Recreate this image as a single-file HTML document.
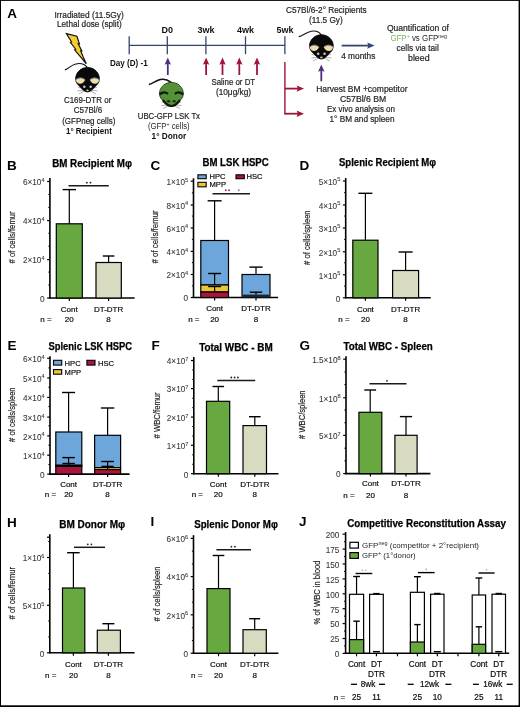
<!DOCTYPE html>
<html><head><meta charset="utf-8"><style>
html,body{margin:0;padding:0;background:#fff;overflow:hidden;}
svg{display:block;font-family:"Liberation Sans", sans-serif;will-change:transform;}
</style></head><body>
<svg width="520" height="707" viewBox="0 0 520 707">
<rect width="520" height="707" fill="#fff"/>
<rect x="0" y="0" width="520" height="0.9" fill="#000"/><rect x="0" y="0" width="1" height="707" fill="#000"/><rect x="518.6" y="0" width="1.4" height="707" fill="#000"/><rect x="0" y="705.3" width="520" height="1.7" fill="#000"/>
<text x="7.00" y="170.00" font-size="13.5" font-weight="bold" fill="#000">B</text>
<text x="92.10" y="166.82" font-size="10.2" text-anchor="middle" font-weight="bold" fill="#000" stroke="#000" stroke-width="0.25" textLength="79.80" lengthAdjust="spacingAndGlyphs">BM Recipient Mφ</text>
<text transform="translate(15.26,237.40) rotate(-90)" x="0" y="0" font-size="9.6" text-anchor="middle" textLength="52.00" lengthAdjust="spacingAndGlyphs" fill="#231f20" stroke="#231f20" stroke-width="0.2"># of cells/femur</text>
<line x1="49.90" y1="178.10" x2="49.90" y2="298.50" stroke="#000" stroke-width="1.6" />
<line x1="49.10" y1="298.00" x2="134.60" y2="298.00" stroke="#000" stroke-width="1.6" />
<line x1="47.10" y1="181.50" x2="49.90" y2="181.50" stroke="#000" stroke-width="1.2" />
<text x="44.50" y="185.35" font-size="8.2" text-anchor="end" fill="#383838" stroke="#383838" stroke-width="0.08">6×10<tspan font-size="5.6" dy="-3.4">4</tspan></text>
<line x1="47.10" y1="220.60" x2="49.90" y2="220.60" stroke="#000" stroke-width="1.2" />
<text x="44.50" y="224.45" font-size="8.2" text-anchor="end" fill="#383838" stroke="#383838" stroke-width="0.08">4×10<tspan font-size="5.6" dy="-3.4">4</tspan></text>
<line x1="47.10" y1="259.60" x2="49.90" y2="259.60" stroke="#000" stroke-width="1.2" />
<text x="44.50" y="263.45" font-size="8.2" text-anchor="end" fill="#383838" stroke="#383838" stroke-width="0.08">2×10<tspan font-size="5.6" dy="-3.4">4</tspan></text>
<line x1="47.10" y1="298.00" x2="49.90" y2="298.00" stroke="#000" stroke-width="1.2" />
<text x="44.50" y="301.85" font-size="8.2" text-anchor="end" fill="#383838" stroke="#383838" stroke-width="0.08">0</text>
<line x1="48.30" y1="285.06" x2="49.90" y2="285.06" stroke="#000" stroke-width="1" />
<line x1="48.30" y1="272.11" x2="49.90" y2="272.11" stroke="#000" stroke-width="1" />
<line x1="48.30" y1="246.22" x2="49.90" y2="246.22" stroke="#000" stroke-width="1" />
<line x1="48.30" y1="233.28" x2="49.90" y2="233.28" stroke="#000" stroke-width="1" />
<line x1="48.30" y1="207.39" x2="49.90" y2="207.39" stroke="#000" stroke-width="1" />
<line x1="48.30" y1="194.44" x2="49.90" y2="194.44" stroke="#000" stroke-width="1" />
<rect x="56.30" y="223.80" width="26.00" height="74.20" fill="#67a840" stroke="#000" stroke-width="1.2"/>
<rect x="96.00" y="262.50" width="25.30" height="35.50" fill="#d8dbc0" stroke="#000" stroke-width="1.2"/>
<line x1="69.30" y1="223.80" x2="69.30" y2="189.60" stroke="#000" stroke-width="1.2" />
<line x1="62.60" y1="189.60" x2="76.00" y2="189.60" stroke="#000" stroke-width="1.4" />
<line x1="108.60" y1="262.50" x2="108.60" y2="256.00" stroke="#000" stroke-width="1.2" />
<line x1="102.80" y1="256.00" x2="114.40" y2="256.00" stroke="#000" stroke-width="1.4" />
<line x1="68.50" y1="185.70" x2="108.80" y2="185.70" stroke="#1a1a1a" stroke-width="1.5" />
<circle cx="86.90" cy="182.70" r="0.9" fill="#222"/>
<circle cx="90.50" cy="182.70" r="0.9" fill="#222"/>
<line x1="69.30" y1="298.00" x2="69.30" y2="301.00" stroke="#000" stroke-width="1.2" />
<line x1="108.60" y1="298.00" x2="108.60" y2="301.00" stroke="#000" stroke-width="1.2" />
<text x="69.30" y="311.88" font-size="8" text-anchor="middle" stroke="#231f20" stroke-width="0.2">Cont</text>
<text x="108.60" y="311.88" font-size="8" text-anchor="middle" stroke="#231f20" stroke-width="0.2">DT-DTR</text>
<text x="46.00" y="322.28" font-size="8" text-anchor="middle" stroke="#231f20" stroke-width="0.2">n =</text>
<text x="69.30" y="322.28" font-size="8" text-anchor="middle" stroke="#231f20" stroke-width="0.2">20</text>
<text x="108.60" y="322.28" font-size="8" text-anchor="middle" stroke="#231f20" stroke-width="0.2">8</text>
<text x="150.50" y="170.00" font-size="13.5" font-weight="bold" fill="#000">C</text>
<text x="235.62" y="166.12" font-size="10.2" text-anchor="middle" font-weight="bold" fill="#000" stroke="#000" stroke-width="0.25" textLength="66.25" lengthAdjust="spacingAndGlyphs">BM LSK HSPC</text>
<text transform="translate(158.26,236.90) rotate(-90)" x="0" y="0" font-size="9.6" text-anchor="middle" textLength="53.00" lengthAdjust="spacingAndGlyphs" fill="#231f20" stroke="#231f20" stroke-width="0.2"># of cells/femur</text>
<line x1="193.50" y1="178.30" x2="193.50" y2="298.00" stroke="#000" stroke-width="1.6" />
<line x1="192.70" y1="297.50" x2="278.10" y2="297.50" stroke="#000" stroke-width="1.6" />
<line x1="190.70" y1="181.20" x2="193.50" y2="181.20" stroke="#000" stroke-width="1.2" />
<text x="188.10" y="185.05" font-size="8.2" text-anchor="end" fill="#383838" stroke="#383838" stroke-width="0.08">1×10<tspan font-size="5.6" dy="-3.4">5</tspan></text>
<line x1="190.70" y1="205.00" x2="193.50" y2="205.00" stroke="#000" stroke-width="1.2" />
<text x="188.10" y="208.85" font-size="8.2" text-anchor="end" fill="#383838" stroke="#383838" stroke-width="0.08">8×10<tspan font-size="5.6" dy="-3.4">4</tspan></text>
<line x1="190.70" y1="228.00" x2="193.50" y2="228.00" stroke="#000" stroke-width="1.2" />
<text x="188.10" y="231.85" font-size="8.2" text-anchor="end" fill="#383838" stroke="#383838" stroke-width="0.08">6×10<tspan font-size="5.6" dy="-3.4">4</tspan></text>
<line x1="190.70" y1="251.40" x2="193.50" y2="251.40" stroke="#000" stroke-width="1.2" />
<text x="188.10" y="255.25" font-size="8.2" text-anchor="end" fill="#383838" stroke="#383838" stroke-width="0.08">4×10<tspan font-size="5.6" dy="-3.4">4</tspan></text>
<line x1="190.70" y1="274.50" x2="193.50" y2="274.50" stroke="#000" stroke-width="1.2" />
<text x="188.10" y="278.35" font-size="8.2" text-anchor="end" fill="#383838" stroke="#383838" stroke-width="0.08">2×10<tspan font-size="5.6" dy="-3.4">4</tspan></text>
<line x1="190.70" y1="297.50" x2="193.50" y2="297.50" stroke="#000" stroke-width="1.2" />
<text x="188.10" y="301.35" font-size="8.2" text-anchor="end" fill="#383838" stroke="#383838" stroke-width="0.08">0</text>
<line x1="191.90" y1="285.87" x2="193.50" y2="285.87" stroke="#000" stroke-width="1" />
<line x1="191.90" y1="262.61" x2="193.50" y2="262.61" stroke="#000" stroke-width="1" />
<line x1="191.90" y1="239.35" x2="193.50" y2="239.35" stroke="#000" stroke-width="1" />
<line x1="191.90" y1="216.09" x2="193.50" y2="216.09" stroke="#000" stroke-width="1" />
<line x1="191.90" y1="192.83" x2="193.50" y2="192.83" stroke="#000" stroke-width="1" />
<rect x="197.90" y="174.80" width="8.30" height="3.90" fill="#6ca6da" stroke="#000" stroke-width="1.1"/>
<rect x="197.90" y="182.30" width="8.30" height="4.50" fill="#eac63a" stroke="#000" stroke-width="1.1"/>
<rect x="236.00" y="174.80" width="8.30" height="3.90" fill="#a8163e" stroke="#000" stroke-width="1.1"/>
<text x="209.50" y="179.00" font-size="7.6" stroke="#231f20" stroke-width="0.2">HPC</text>
<text x="209.50" y="186.50" font-size="7.6" stroke="#231f20" stroke-width="0.2">MPP</text>
<text x="246.50" y="179.00" font-size="7.6" stroke="#231f20" stroke-width="0.2">HSC</text>
<rect x="200.80" y="240.50" width="27.70" height="44.50" fill="#6ca6da" stroke="#000" stroke-width="1.2"/>
<rect x="200.80" y="285.00" width="27.70" height="7.00" fill="#eac63a" stroke="#000" stroke-width="1.2"/>
<rect x="200.80" y="292.00" width="27.70" height="5.50" fill="#a8163e" stroke="#000" stroke-width="1.2"/>
<line x1="214.60" y1="240.50" x2="214.60" y2="200.80" stroke="#000" stroke-width="1.2" />
<line x1="207.60" y1="200.80" x2="221.60" y2="200.80" stroke="#000" stroke-width="1.4" />
<line x1="214.60" y1="285.00" x2="214.60" y2="273.50" stroke="#000" stroke-width="1.2" />
<line x1="208.10" y1="273.50" x2="221.10" y2="273.50" stroke="#000" stroke-width="1.4" />
<line x1="214.60" y1="292.00" x2="214.60" y2="286.50" stroke="#000" stroke-width="1.2" />
<line x1="208.10" y1="286.50" x2="221.10" y2="286.50" stroke="#000" stroke-width="1.4" />
<rect x="242.00" y="274.50" width="28.00" height="23.00" fill="#6ca6da" stroke="#000" stroke-width="1.2"/>
<rect x="242.60" y="294.60" width="26.80" height="2.90" fill="#1c2333" stroke="none" stroke-width="0"/>
<line x1="256.00" y1="274.50" x2="256.00" y2="267.10" stroke="#000" stroke-width="1.2" />
<line x1="249.40" y1="267.10" x2="262.60" y2="267.10" stroke="#000" stroke-width="1.4" />
<line x1="256.00" y1="294.60" x2="256.00" y2="292.20" stroke="#000" stroke-width="1.2" />
<line x1="249.80" y1="292.20" x2="262.20" y2="292.20" stroke="#000" stroke-width="1.4" />
<line x1="212.50" y1="193.70" x2="250.00" y2="193.70" stroke="#1a1a1a" stroke-width="1.4" />
<circle cx="225.75" cy="190.30" r="1.0" fill="#8c3a68"/>
<circle cx="229.05" cy="190.30" r="1.0" fill="#8c3a68"/>
<circle cx="238.80" cy="190.30" r="1.0" fill="#7890a8"/>
<line x1="214.60" y1="297.50" x2="214.60" y2="300.50" stroke="#000" stroke-width="1.2" />
<line x1="256.00" y1="297.50" x2="256.00" y2="300.50" stroke="#000" stroke-width="1.2" />
<text x="214.60" y="311.38" font-size="8" text-anchor="middle" stroke="#231f20" stroke-width="0.2">Cont</text>
<text x="256.00" y="311.38" font-size="8" text-anchor="middle" stroke="#231f20" stroke-width="0.2">DT-DTR</text>
<text x="193.80" y="322.08" font-size="8" text-anchor="middle" stroke="#231f20" stroke-width="0.2">n =</text>
<text x="214.60" y="322.08" font-size="8" text-anchor="middle" stroke="#231f20" stroke-width="0.2">20</text>
<text x="256.00" y="322.08" font-size="8" text-anchor="middle" stroke="#231f20" stroke-width="0.2">8</text>
<text x="299.50" y="170.00" font-size="13.5" font-weight="bold" fill="#000">D</text>
<text x="387.50" y="166.12" font-size="10.2" text-anchor="middle" font-weight="bold" fill="#000" stroke="#000" stroke-width="0.25" textLength="97.00" lengthAdjust="spacingAndGlyphs">Splenic Recipient Mφ</text>
<text transform="translate(310.36,237.65) rotate(-90)" x="0" y="0" font-size="9.6" text-anchor="middle" textLength="54.50" lengthAdjust="spacingAndGlyphs" fill="#231f20" stroke="#231f20" stroke-width="0.2"># of cells/spleen</text>
<line x1="345.70" y1="178.10" x2="345.70" y2="298.30" stroke="#000" stroke-width="1.6" />
<line x1="344.90" y1="297.80" x2="430.70" y2="297.80" stroke="#000" stroke-width="1.6" />
<line x1="342.90" y1="181.00" x2="345.70" y2="181.00" stroke="#000" stroke-width="1.2" />
<text x="340.30" y="184.85" font-size="8.2" text-anchor="end" fill="#383838" stroke="#383838" stroke-width="0.08">5×10<tspan font-size="5.6" dy="-3.4">5</tspan></text>
<line x1="342.90" y1="205.00" x2="345.70" y2="205.00" stroke="#000" stroke-width="1.2" />
<text x="340.30" y="208.85" font-size="8.2" text-anchor="end" fill="#383838" stroke="#383838" stroke-width="0.08">4×10<tspan font-size="5.6" dy="-3.4">5</tspan></text>
<line x1="342.90" y1="228.00" x2="345.70" y2="228.00" stroke="#000" stroke-width="1.2" />
<text x="340.30" y="231.85" font-size="8.2" text-anchor="end" fill="#383838" stroke="#383838" stroke-width="0.08">3×10<tspan font-size="5.6" dy="-3.4">5</tspan></text>
<line x1="342.90" y1="251.80" x2="345.70" y2="251.80" stroke="#000" stroke-width="1.2" />
<text x="340.30" y="255.65" font-size="8.2" text-anchor="end" fill="#383838" stroke="#383838" stroke-width="0.08">2×10<tspan font-size="5.6" dy="-3.4">5</tspan></text>
<line x1="342.90" y1="274.80" x2="345.70" y2="274.80" stroke="#000" stroke-width="1.2" />
<text x="340.30" y="278.65" font-size="8.2" text-anchor="end" fill="#383838" stroke="#383838" stroke-width="0.08">1×10<tspan font-size="5.6" dy="-3.4">5</tspan></text>
<line x1="342.90" y1="297.80" x2="345.70" y2="297.80" stroke="#000" stroke-width="1.2" />
<text x="340.30" y="301.65" font-size="8.2" text-anchor="end" fill="#383838" stroke="#383838" stroke-width="0.08">0</text>
<line x1="344.10" y1="286.12" x2="345.70" y2="286.12" stroke="#000" stroke-width="1" />
<line x1="344.10" y1="262.76" x2="345.70" y2="262.76" stroke="#000" stroke-width="1" />
<line x1="344.10" y1="239.40" x2="345.70" y2="239.40" stroke="#000" stroke-width="1" />
<line x1="344.10" y1="216.04" x2="345.70" y2="216.04" stroke="#000" stroke-width="1" />
<line x1="344.10" y1="192.68" x2="345.70" y2="192.68" stroke="#000" stroke-width="1" />
<rect x="352.80" y="240.20" width="25.20" height="57.60" fill="#67a840" stroke="#000" stroke-width="1.2"/>
<rect x="392.60" y="270.50" width="26.00" height="27.30" fill="#d8dbc0" stroke="#000" stroke-width="1.2"/>
<line x1="365.40" y1="240.20" x2="365.40" y2="193.30" stroke="#000" stroke-width="1.2" />
<line x1="358.40" y1="193.30" x2="372.40" y2="193.30" stroke="#000" stroke-width="1.4" />
<line x1="405.60" y1="270.50" x2="405.60" y2="252.00" stroke="#000" stroke-width="1.2" />
<line x1="398.60" y1="252.00" x2="412.60" y2="252.00" stroke="#000" stroke-width="1.4" />
<line x1="365.40" y1="297.80" x2="365.40" y2="300.80" stroke="#000" stroke-width="1.2" />
<line x1="405.60" y1="297.80" x2="405.60" y2="300.80" stroke="#000" stroke-width="1.2" />
<text x="365.40" y="312.08" font-size="8" text-anchor="middle" stroke="#231f20" stroke-width="0.2">Cont</text>
<text x="405.60" y="312.08" font-size="8" text-anchor="middle" stroke="#231f20" stroke-width="0.2">DT-DTR</text>
<text x="344.00" y="322.48" font-size="8" text-anchor="middle" stroke="#231f20" stroke-width="0.2">n =</text>
<text x="365.40" y="322.48" font-size="8" text-anchor="middle" stroke="#231f20" stroke-width="0.2">20</text>
<text x="405.60" y="322.48" font-size="8" text-anchor="middle" stroke="#231f20" stroke-width="0.2">8</text>
<text x="7.50" y="350.20" font-size="13.5" font-weight="bold" fill="#000">E</text>
<text x="90.25" y="350.42" font-size="10.2" text-anchor="middle" font-weight="bold" fill="#000" stroke="#000" stroke-width="0.25" textLength="83.50" lengthAdjust="spacingAndGlyphs">Splenic LSK HSPC</text>
<text transform="translate(14.76,414.65) rotate(-90)" x="0" y="0" font-size="9.6" text-anchor="middle" textLength="54.50" lengthAdjust="spacingAndGlyphs" fill="#231f20" stroke="#231f20" stroke-width="0.2"># of cells/spleen</text>
<line x1="50.00" y1="356.30" x2="50.00" y2="474.60" stroke="#000" stroke-width="1.6" />
<line x1="49.20" y1="474.10" x2="129.60" y2="474.10" stroke="#000" stroke-width="1.6" />
<line x1="47.20" y1="358.30" x2="50.00" y2="358.30" stroke="#000" stroke-width="1.2" />
<text x="44.60" y="362.15" font-size="8.2" text-anchor="end" fill="#383838" stroke="#383838" stroke-width="0.08">6×10<tspan font-size="5.6" dy="-3.4">4</tspan></text>
<line x1="47.20" y1="378.00" x2="50.00" y2="378.00" stroke="#000" stroke-width="1.2" />
<text x="44.60" y="381.85" font-size="8.2" text-anchor="end" fill="#383838" stroke="#383838" stroke-width="0.08">5×10<tspan font-size="5.6" dy="-3.4">4</tspan></text>
<line x1="47.20" y1="397.40" x2="50.00" y2="397.40" stroke="#000" stroke-width="1.2" />
<text x="44.60" y="401.25" font-size="8.2" text-anchor="end" fill="#383838" stroke="#383838" stroke-width="0.08">4×10<tspan font-size="5.6" dy="-3.4">4</tspan></text>
<line x1="47.20" y1="417.10" x2="50.00" y2="417.10" stroke="#000" stroke-width="1.2" />
<text x="44.60" y="420.95" font-size="8.2" text-anchor="end" fill="#383838" stroke="#383838" stroke-width="0.08">3×10<tspan font-size="5.6" dy="-3.4">4</tspan></text>
<line x1="47.20" y1="435.90" x2="50.00" y2="435.90" stroke="#000" stroke-width="1.2" />
<text x="44.60" y="439.75" font-size="8.2" text-anchor="end" fill="#383838" stroke="#383838" stroke-width="0.08">2×10<tspan font-size="5.6" dy="-3.4">4</tspan></text>
<line x1="47.20" y1="455.20" x2="50.00" y2="455.20" stroke="#000" stroke-width="1.2" />
<text x="44.60" y="459.05" font-size="8.2" text-anchor="end" fill="#383838" stroke="#383838" stroke-width="0.08">1×10<tspan font-size="5.6" dy="-3.4">4</tspan></text>
<line x1="47.20" y1="474.10" x2="50.00" y2="474.10" stroke="#000" stroke-width="1.2" />
<text x="44.60" y="477.95" font-size="8.2" text-anchor="end" fill="#383838" stroke="#383838" stroke-width="0.08">0</text>
<line x1="48.40" y1="464.45" x2="50.00" y2="464.45" stroke="#000" stroke-width="1" />
<line x1="48.40" y1="445.15" x2="50.00" y2="445.15" stroke="#000" stroke-width="1" />
<line x1="48.40" y1="425.85" x2="50.00" y2="425.85" stroke="#000" stroke-width="1" />
<line x1="48.40" y1="406.55" x2="50.00" y2="406.55" stroke="#000" stroke-width="1" />
<line x1="48.40" y1="387.25" x2="50.00" y2="387.25" stroke="#000" stroke-width="1" />
<line x1="48.40" y1="367.95" x2="50.00" y2="367.95" stroke="#000" stroke-width="1" />
<rect x="53.50" y="360.30" width="8.20" height="4.80" fill="#6ca6da" stroke="#000" stroke-width="1.1"/>
<rect x="53.50" y="369.60" width="8.20" height="4.60" fill="#eac63a" stroke="#000" stroke-width="1.1"/>
<rect x="86.90" y="360.30" width="8.10" height="4.80" fill="#a8163e" stroke="#000" stroke-width="1.1"/>
<text x="64.60" y="365.60" font-size="7.6" stroke="#231f20" stroke-width="0.2">HPC</text>
<text x="64.60" y="374.80" font-size="7.6" stroke="#231f20" stroke-width="0.2">MPP</text>
<text x="98.00" y="365.60" font-size="7.6" stroke="#231f20" stroke-width="0.2">HSC</text>
<rect x="55.80" y="432.00" width="26.00" height="33.30" fill="#6ca6da" stroke="#000" stroke-width="1.2"/>
<rect x="55.80" y="465.30" width="26.00" height="1.10" fill="#eac63a" stroke="#000" stroke-width="1.2"/>
<rect x="55.80" y="466.40" width="26.00" height="7.70" fill="#a8163e" stroke="#000" stroke-width="1.2"/>
<line x1="68.60" y1="432.00" x2="68.60" y2="392.50" stroke="#000" stroke-width="1.2" />
<line x1="62.10" y1="392.50" x2="75.10" y2="392.50" stroke="#000" stroke-width="1.4" />
<line x1="68.60" y1="465.30" x2="68.60" y2="457.60" stroke="#000" stroke-width="1.2" />
<line x1="62.40" y1="457.60" x2="74.80" y2="457.60" stroke="#000" stroke-width="1.4" />
<line x1="68.60" y1="466.40" x2="68.60" y2="463.50" stroke="#000" stroke-width="1.2" />
<line x1="62.40" y1="463.50" x2="74.80" y2="463.50" stroke="#000" stroke-width="1.4" />
<rect x="94.60" y="435.30" width="26.00" height="32.30" fill="#6ca6da" stroke="#000" stroke-width="1.2"/>
<rect x="94.60" y="467.60" width="26.00" height="2.00" fill="#eac63a" stroke="#000" stroke-width="1.2"/>
<rect x="94.60" y="469.60" width="26.00" height="4.50" fill="#a8163e" stroke="#000" stroke-width="1.2"/>
<line x1="107.60" y1="435.30" x2="107.60" y2="408.00" stroke="#000" stroke-width="1.2" />
<line x1="100.90" y1="408.00" x2="114.30" y2="408.00" stroke="#000" stroke-width="1.4" />
<line x1="107.60" y1="467.60" x2="107.60" y2="461.50" stroke="#000" stroke-width="1.2" />
<line x1="101.20" y1="461.50" x2="114.00" y2="461.50" stroke="#000" stroke-width="1.4" />
<line x1="107.60" y1="469.60" x2="107.60" y2="466.40" stroke="#000" stroke-width="1.2" />
<line x1="101.50" y1="466.40" x2="113.70" y2="466.40" stroke="#000" stroke-width="1.4" />
<line x1="68.60" y1="474.10" x2="68.60" y2="477.10" stroke="#000" stroke-width="1.2" />
<line x1="107.60" y1="474.10" x2="107.60" y2="477.10" stroke="#000" stroke-width="1.2" />
<text x="68.60" y="486.88" font-size="8" text-anchor="middle" stroke="#231f20" stroke-width="0.2">Cont</text>
<text x="107.60" y="486.88" font-size="8" text-anchor="middle" stroke="#231f20" stroke-width="0.2">DT-DTR</text>
<text x="50.50" y="496.88" font-size="8" text-anchor="middle" stroke="#231f20" stroke-width="0.2">n =</text>
<text x="68.60" y="496.88" font-size="8" text-anchor="middle" stroke="#231f20" stroke-width="0.2">20</text>
<text x="107.60" y="496.88" font-size="8" text-anchor="middle" stroke="#231f20" stroke-width="0.2">8</text>
<text x="151.50" y="350.20" font-size="13.5" font-weight="bold" fill="#000">F</text>
<text x="235.95" y="350.62" font-size="10.2" text-anchor="middle" font-weight="bold" fill="#000" stroke="#000" stroke-width="0.25" textLength="73.50" lengthAdjust="spacingAndGlyphs">Total WBC - BM</text>
<text transform="translate(159.76,415.40) rotate(-90)" x="0" y="0" font-size="9.6" text-anchor="middle" textLength="46.00" lengthAdjust="spacingAndGlyphs" fill="#231f20" stroke="#231f20" stroke-width="0.2"># WBC/femur</text>
<line x1="193.80" y1="357.00" x2="193.80" y2="474.20" stroke="#000" stroke-width="1.6" />
<line x1="193.00" y1="473.70" x2="278.50" y2="473.70" stroke="#000" stroke-width="1.6" />
<line x1="191.00" y1="360.50" x2="193.80" y2="360.50" stroke="#000" stroke-width="1.2" />
<text x="188.40" y="364.35" font-size="8.2" text-anchor="end" fill="#383838" stroke="#383838" stroke-width="0.08">4×10<tspan font-size="5.6" dy="-3.4">7</tspan></text>
<line x1="191.00" y1="388.60" x2="193.80" y2="388.60" stroke="#000" stroke-width="1.2" />
<text x="188.40" y="392.45" font-size="8.2" text-anchor="end" fill="#383838" stroke="#383838" stroke-width="0.08">3×10<tspan font-size="5.6" dy="-3.4">7</tspan></text>
<line x1="191.00" y1="417.10" x2="193.80" y2="417.10" stroke="#000" stroke-width="1.2" />
<text x="188.40" y="420.95" font-size="8.2" text-anchor="end" fill="#383838" stroke="#383838" stroke-width="0.08">2×10<tspan font-size="5.6" dy="-3.4">7</tspan></text>
<line x1="191.00" y1="445.30" x2="193.80" y2="445.30" stroke="#000" stroke-width="1.2" />
<text x="188.40" y="449.15" font-size="8.2" text-anchor="end" fill="#383838" stroke="#383838" stroke-width="0.08">1×10<tspan font-size="5.6" dy="-3.4">7</tspan></text>
<line x1="191.00" y1="473.70" x2="193.80" y2="473.70" stroke="#000" stroke-width="1.2" />
<text x="188.40" y="477.55" font-size="8.2" text-anchor="end" fill="#383838" stroke="#383838" stroke-width="0.08">0</text>
<line x1="192.20" y1="464.27" x2="193.80" y2="464.27" stroke="#000" stroke-width="1" />
<line x1="192.20" y1="454.83" x2="193.80" y2="454.83" stroke="#000" stroke-width="1" />
<line x1="192.20" y1="435.97" x2="193.80" y2="435.97" stroke="#000" stroke-width="1" />
<line x1="192.20" y1="426.53" x2="193.80" y2="426.53" stroke="#000" stroke-width="1" />
<line x1="192.20" y1="407.67" x2="193.80" y2="407.67" stroke="#000" stroke-width="1" />
<line x1="192.20" y1="398.23" x2="193.80" y2="398.23" stroke="#000" stroke-width="1" />
<line x1="192.20" y1="379.37" x2="193.80" y2="379.37" stroke="#000" stroke-width="1" />
<line x1="192.20" y1="369.93" x2="193.80" y2="369.93" stroke="#000" stroke-width="1" />
<rect x="206.50" y="401.30" width="23.20" height="72.40" fill="#67a840" stroke="#000" stroke-width="1.2"/>
<rect x="243.00" y="425.60" width="23.50" height="48.10" fill="#d8dbc0" stroke="#000" stroke-width="1.2"/>
<line x1="218.30" y1="401.30" x2="218.30" y2="386.50" stroke="#000" stroke-width="1.2" />
<line x1="212.50" y1="386.50" x2="224.10" y2="386.50" stroke="#000" stroke-width="1.4" />
<line x1="254.80" y1="425.60" x2="254.80" y2="416.70" stroke="#000" stroke-width="1.2" />
<line x1="249.00" y1="416.70" x2="260.60" y2="416.70" stroke="#000" stroke-width="1.4" />
<line x1="217.30" y1="380.50" x2="255.20" y2="380.50" stroke="#1a1a1a" stroke-width="1.5" />
<circle cx="231.30" cy="377.50" r="0.9" fill="#222"/>
<circle cx="234.60" cy="377.50" r="0.9" fill="#222"/>
<circle cx="237.90" cy="377.50" r="0.9" fill="#222"/>
<line x1="218.30" y1="473.70" x2="218.30" y2="476.70" stroke="#000" stroke-width="1.2" />
<line x1="254.80" y1="473.70" x2="254.80" y2="476.70" stroke="#000" stroke-width="1.2" />
<text x="218.30" y="486.88" font-size="8" text-anchor="middle" stroke="#231f20" stroke-width="0.2">Cont</text>
<text x="254.80" y="486.88" font-size="8" text-anchor="middle" stroke="#231f20" stroke-width="0.2">DT-DTR</text>
<text x="197.30" y="497.38" font-size="8" text-anchor="middle" stroke="#231f20" stroke-width="0.2">n =</text>
<text x="218.30" y="497.38" font-size="8" text-anchor="middle" stroke="#231f20" stroke-width="0.2">20</text>
<text x="254.80" y="497.38" font-size="8" text-anchor="middle" stroke="#231f20" stroke-width="0.2">8</text>
<text x="299.50" y="349.60" font-size="13.5" font-weight="bold" fill="#000">G</text>
<text x="388.15" y="350.12" font-size="10.2" text-anchor="middle" font-weight="bold" fill="#000" stroke="#000" stroke-width="0.25" textLength="89.30" lengthAdjust="spacingAndGlyphs">Total WBC - Spleen</text>
<text transform="translate(304.76,414.65) rotate(-90)" x="0" y="0" font-size="9.6" text-anchor="middle" textLength="48.50" lengthAdjust="spacingAndGlyphs" fill="#231f20" stroke="#231f20" stroke-width="0.2"># WBC/spleen</text>
<line x1="346.00" y1="356.30" x2="346.00" y2="474.10" stroke="#000" stroke-width="1.6" />
<line x1="345.20" y1="473.60" x2="430.40" y2="473.60" stroke="#000" stroke-width="1.6" />
<line x1="343.20" y1="359.20" x2="346.00" y2="359.20" stroke="#000" stroke-width="1.2" />
<text x="340.60" y="363.05" font-size="8.2" text-anchor="end" fill="#383838" stroke="#383838" stroke-width="0.08">1.5×10<tspan font-size="5.6" dy="-3.4">8</tspan></text>
<line x1="343.20" y1="397.80" x2="346.00" y2="397.80" stroke="#000" stroke-width="1.2" />
<text x="340.60" y="401.65" font-size="8.2" text-anchor="end" fill="#383838" stroke="#383838" stroke-width="0.08">1×10<tspan font-size="5.6" dy="-3.4">8</tspan></text>
<line x1="343.20" y1="435.40" x2="346.00" y2="435.40" stroke="#000" stroke-width="1.2" />
<text x="340.60" y="439.25" font-size="8.2" text-anchor="end" fill="#383838" stroke="#383838" stroke-width="0.08">5×10<tspan font-size="5.6" dy="-3.4">7</tspan></text>
<line x1="343.20" y1="473.60" x2="346.00" y2="473.60" stroke="#000" stroke-width="1.2" />
<text x="340.60" y="477.45" font-size="8.2" text-anchor="end" fill="#383838" stroke="#383838" stroke-width="0.08">0</text>
<line x1="344.40" y1="460.89" x2="346.00" y2="460.89" stroke="#000" stroke-width="1" />
<line x1="344.40" y1="448.18" x2="346.00" y2="448.18" stroke="#000" stroke-width="1" />
<line x1="344.40" y1="422.76" x2="346.00" y2="422.76" stroke="#000" stroke-width="1" />
<line x1="344.40" y1="410.04" x2="346.00" y2="410.04" stroke="#000" stroke-width="1" />
<line x1="344.40" y1="384.62" x2="346.00" y2="384.62" stroke="#000" stroke-width="1" />
<line x1="344.40" y1="371.91" x2="346.00" y2="371.91" stroke="#000" stroke-width="1" />
<rect x="358.90" y="412.30" width="22.90" height="61.30" fill="#67a840" stroke="#000" stroke-width="1.2"/>
<rect x="394.90" y="435.30" width="22.20" height="38.30" fill="#d8dbc0" stroke="#000" stroke-width="1.2"/>
<line x1="370.20" y1="412.30" x2="370.20" y2="390.00" stroke="#000" stroke-width="1.2" />
<line x1="364.30" y1="390.00" x2="376.10" y2="390.00" stroke="#000" stroke-width="1.4" />
<line x1="406.00" y1="435.30" x2="406.00" y2="416.60" stroke="#000" stroke-width="1.2" />
<line x1="399.90" y1="416.60" x2="412.10" y2="416.60" stroke="#000" stroke-width="1.4" />
<line x1="369.50" y1="383.80" x2="406.50" y2="383.80" stroke="#1a1a1a" stroke-width="1.5" />
<circle cx="387.00" cy="380.80" r="0.9" fill="#222"/>
<line x1="370.40" y1="473.60" x2="370.40" y2="476.60" stroke="#000" stroke-width="1.2" />
<line x1="406.00" y1="473.60" x2="406.00" y2="476.60" stroke="#000" stroke-width="1.2" />
<text x="370.40" y="486.48" font-size="8" text-anchor="middle" stroke="#231f20" stroke-width="0.2">Cont</text>
<text x="406.00" y="486.48" font-size="8" text-anchor="middle" stroke="#231f20" stroke-width="0.2">DT-DTR</text>
<text x="349.00" y="497.88" font-size="8" text-anchor="middle" stroke="#231f20" stroke-width="0.2">n =</text>
<text x="370.40" y="497.88" font-size="8" text-anchor="middle" stroke="#231f20" stroke-width="0.2">20</text>
<text x="406.00" y="497.88" font-size="8" text-anchor="middle" stroke="#231f20" stroke-width="0.2">8</text>
<text x="7.00" y="526.50" font-size="13.5" font-weight="bold" fill="#000">H</text>
<text x="92.20" y="527.62" font-size="10.2" text-anchor="middle" font-weight="bold" fill="#000" stroke="#000" stroke-width="0.25" textLength="66.00" lengthAdjust="spacingAndGlyphs">BM Donor Mφ</text>
<text transform="translate(14.76,593.15) rotate(-90)" x="0" y="0" font-size="9.6" text-anchor="middle" textLength="52.50" lengthAdjust="spacingAndGlyphs" fill="#231f20" stroke="#231f20" stroke-width="0.2"># of cells/femur</text>
<line x1="49.80" y1="534.30" x2="49.80" y2="653.30" stroke="#000" stroke-width="1.6" />
<line x1="49.00" y1="652.80" x2="134.60" y2="652.80" stroke="#000" stroke-width="1.6" />
<line x1="47.00" y1="557.50" x2="49.80" y2="557.50" stroke="#000" stroke-width="1.2" />
<text x="44.40" y="561.35" font-size="8.2" text-anchor="end" fill="#383838" stroke="#383838" stroke-width="0.08">1×10<tspan font-size="5.6" dy="-3.4">6</tspan></text>
<line x1="47.00" y1="605.30" x2="49.80" y2="605.30" stroke="#000" stroke-width="1.2" />
<text x="44.40" y="609.15" font-size="8.2" text-anchor="end" fill="#383838" stroke="#383838" stroke-width="0.08">5×10<tspan font-size="5.6" dy="-3.4">5</tspan></text>
<line x1="47.00" y1="652.80" x2="49.80" y2="652.80" stroke="#000" stroke-width="1.2" />
<text x="44.40" y="656.65" font-size="8.2" text-anchor="end" fill="#383838" stroke="#383838" stroke-width="0.08">0</text>
<line x1="48.20" y1="636.92" x2="49.80" y2="636.92" stroke="#000" stroke-width="1" />
<line x1="48.20" y1="621.03" x2="49.80" y2="621.03" stroke="#000" stroke-width="1" />
<line x1="48.20" y1="589.27" x2="49.80" y2="589.27" stroke="#000" stroke-width="1" />
<line x1="48.20" y1="573.38" x2="49.80" y2="573.38" stroke="#000" stroke-width="1" />
<line x1="48.20" y1="541.62" x2="49.80" y2="541.62" stroke="#000" stroke-width="1" />
<line x1="47.00" y1="537.20" x2="49.80" y2="537.20" stroke="#000" stroke-width="1.2" />
<rect x="62.50" y="588.00" width="22.30" height="64.80" fill="#67a840" stroke="#000" stroke-width="1.2"/>
<rect x="97.30" y="630.20" width="23.10" height="22.60" fill="#d8dbc0" stroke="#000" stroke-width="1.2"/>
<line x1="73.40" y1="588.00" x2="73.40" y2="552.70" stroke="#000" stroke-width="1.2" />
<line x1="67.10" y1="552.70" x2="79.70" y2="552.70" stroke="#000" stroke-width="1.4" />
<line x1="108.40" y1="630.20" x2="108.40" y2="623.70" stroke="#000" stroke-width="1.2" />
<line x1="102.40" y1="623.70" x2="114.40" y2="623.70" stroke="#000" stroke-width="1.4" />
<line x1="74.00" y1="547.30" x2="105.00" y2="547.30" stroke="#1a1a1a" stroke-width="1.5" />
<circle cx="87.80" cy="544.30" r="0.9" fill="#222"/>
<circle cx="91.40" cy="544.30" r="0.9" fill="#222"/>
<line x1="73.40" y1="652.80" x2="73.40" y2="655.80" stroke="#000" stroke-width="1.2" />
<line x1="108.40" y1="652.80" x2="108.40" y2="655.80" stroke="#000" stroke-width="1.2" />
<text x="73.40" y="667.48" font-size="8" text-anchor="middle" stroke="#231f20" stroke-width="0.2">Cont</text>
<text x="108.40" y="667.48" font-size="8" text-anchor="middle" stroke="#231f20" stroke-width="0.2">DT-DTR</text>
<text x="50.70" y="677.68" font-size="8" text-anchor="middle" stroke="#231f20" stroke-width="0.2">n =</text>
<text x="73.40" y="677.68" font-size="8" text-anchor="middle" stroke="#231f20" stroke-width="0.2">20</text>
<text x="108.40" y="677.68" font-size="8" text-anchor="middle" stroke="#231f20" stroke-width="0.2">8</text>
<text x="150.50" y="525.80" font-size="13.5" font-weight="bold" fill="#000">I</text>
<text x="236.05" y="527.62" font-size="10.2" text-anchor="middle" font-weight="bold" fill="#000" stroke="#000" stroke-width="0.25" textLength="83.70" lengthAdjust="spacingAndGlyphs">Splenic Donor Mφ</text>
<text transform="translate(159.76,593.90) rotate(-90)" x="0" y="0" font-size="9.6" text-anchor="middle" textLength="55.00" lengthAdjust="spacingAndGlyphs" fill="#231f20" stroke="#231f20" stroke-width="0.2"># of cells/spleen</text>
<line x1="193.50" y1="535.20" x2="193.50" y2="653.70" stroke="#000" stroke-width="1.6" />
<line x1="192.70" y1="653.20" x2="278.40" y2="653.20" stroke="#000" stroke-width="1.6" />
<line x1="190.70" y1="538.40" x2="193.50" y2="538.40" stroke="#000" stroke-width="1.2" />
<text x="188.10" y="542.25" font-size="8.2" text-anchor="end" fill="#383838" stroke="#383838" stroke-width="0.08">6×10<tspan font-size="5.6" dy="-3.4">6</tspan></text>
<line x1="190.70" y1="576.60" x2="193.50" y2="576.60" stroke="#000" stroke-width="1.2" />
<text x="188.10" y="580.45" font-size="8.2" text-anchor="end" fill="#383838" stroke="#383838" stroke-width="0.08">4×10<tspan font-size="5.6" dy="-3.4">6</tspan></text>
<line x1="190.70" y1="614.80" x2="193.50" y2="614.80" stroke="#000" stroke-width="1.2" />
<text x="188.10" y="618.65" font-size="8.2" text-anchor="end" fill="#383838" stroke="#383838" stroke-width="0.08">2×10<tspan font-size="5.6" dy="-3.4">6</tspan></text>
<line x1="190.70" y1="653.20" x2="193.50" y2="653.20" stroke="#000" stroke-width="1.2" />
<text x="188.10" y="657.05" font-size="8.2" text-anchor="end" fill="#383838" stroke="#383838" stroke-width="0.08">0</text>
<line x1="191.90" y1="640.44" x2="193.50" y2="640.44" stroke="#000" stroke-width="1" />
<line x1="191.90" y1="627.69" x2="193.50" y2="627.69" stroke="#000" stroke-width="1" />
<line x1="191.90" y1="602.18" x2="193.50" y2="602.18" stroke="#000" stroke-width="1" />
<line x1="191.90" y1="589.42" x2="193.50" y2="589.42" stroke="#000" stroke-width="1" />
<line x1="191.90" y1="563.91" x2="193.50" y2="563.91" stroke="#000" stroke-width="1" />
<line x1="191.90" y1="551.16" x2="193.50" y2="551.16" stroke="#000" stroke-width="1" />
<rect x="207.00" y="588.60" width="23.00" height="64.60" fill="#67a840" stroke="#000" stroke-width="1.2"/>
<rect x="243.00" y="629.70" width="23.30" height="23.50" fill="#d8dbc0" stroke="#000" stroke-width="1.2"/>
<line x1="218.50" y1="588.60" x2="218.50" y2="555.50" stroke="#000" stroke-width="1.2" />
<line x1="212.70" y1="555.50" x2="224.30" y2="555.50" stroke="#000" stroke-width="1.4" />
<line x1="254.70" y1="629.70" x2="254.70" y2="618.70" stroke="#000" stroke-width="1.2" />
<line x1="249.20" y1="618.70" x2="260.20" y2="618.70" stroke="#000" stroke-width="1.4" />
<line x1="216.40" y1="549.70" x2="251.00" y2="549.70" stroke="#1a1a1a" stroke-width="1.5" />
<circle cx="231.40" cy="546.70" r="0.9" fill="#222"/>
<circle cx="235.00" cy="546.70" r="0.9" fill="#222"/>
<line x1="218.50" y1="653.20" x2="218.50" y2="656.20" stroke="#000" stroke-width="1.2" />
<line x1="254.70" y1="653.20" x2="254.70" y2="656.20" stroke="#000" stroke-width="1.2" />
<text x="218.50" y="666.88" font-size="8" text-anchor="middle" stroke="#231f20" stroke-width="0.2">Cont</text>
<text x="254.70" y="666.88" font-size="8" text-anchor="middle" stroke="#231f20" stroke-width="0.2">DT-DTR</text>
<text x="196.70" y="677.88" font-size="8" text-anchor="middle" stroke="#231f20" stroke-width="0.2">n =</text>
<text x="218.50" y="677.88" font-size="8" text-anchor="middle" stroke="#231f20" stroke-width="0.2">20</text>
<text x="254.70" y="677.88" font-size="8" text-anchor="middle" stroke="#231f20" stroke-width="0.2">8</text>
<text x="299.00" y="525.80" font-size="13.5" font-weight="bold" fill="#000">J</text>
<text x="426.60" y="527.12" font-size="10.2" text-anchor="middle" font-weight="bold" fill="#000" stroke="#000" stroke-width="0.25" textLength="158.80" lengthAdjust="spacingAndGlyphs">Competitive Reconstitution Assay</text>
<text transform="translate(320.26,592.45) rotate(-90)" x="0" y="0" font-size="9.6" text-anchor="middle" textLength="63.90" lengthAdjust="spacingAndGlyphs" fill="#231f20" stroke="#231f20" stroke-width="0.2">% of WBC in blood</text>
<line x1="345.60" y1="532.00" x2="345.60" y2="653.80" stroke="#000" stroke-width="1.6" />
<line x1="344.80" y1="653.30" x2="509.20" y2="653.30" stroke="#000" stroke-width="1.6" />
<line x1="342.60" y1="534.20" x2="345.60" y2="534.20" stroke="#000" stroke-width="1.2" />
<text x="339.30" y="538.05" font-size="8.2" text-anchor="end" fill="#383838" stroke="#383838" stroke-width="0.08">200</text>
<line x1="342.60" y1="549.10" x2="345.60" y2="549.10" stroke="#000" stroke-width="1.2" />
<text x="339.30" y="552.95" font-size="8.2" text-anchor="end" fill="#383838" stroke="#383838" stroke-width="0.08">175</text>
<line x1="342.60" y1="564.00" x2="345.60" y2="564.00" stroke="#000" stroke-width="1.2" />
<text x="339.30" y="567.85" font-size="8.2" text-anchor="end" fill="#383838" stroke="#383838" stroke-width="0.08">150</text>
<line x1="342.60" y1="578.90" x2="345.60" y2="578.90" stroke="#000" stroke-width="1.2" />
<text x="339.30" y="582.75" font-size="8.2" text-anchor="end" fill="#383838" stroke="#383838" stroke-width="0.08">125</text>
<line x1="342.60" y1="593.80" x2="345.60" y2="593.80" stroke="#000" stroke-width="1.2" />
<text x="339.30" y="597.65" font-size="8.2" text-anchor="end" fill="#383838" stroke="#383838" stroke-width="0.08">100</text>
<line x1="342.60" y1="608.70" x2="345.60" y2="608.70" stroke="#000" stroke-width="1.2" />
<text x="339.30" y="612.55" font-size="8.2" text-anchor="end" fill="#383838" stroke="#383838" stroke-width="0.08">75</text>
<line x1="342.60" y1="623.60" x2="345.60" y2="623.60" stroke="#000" stroke-width="1.2" />
<text x="339.30" y="627.45" font-size="8.2" text-anchor="end" fill="#383838" stroke="#383838" stroke-width="0.08">50</text>
<line x1="342.60" y1="638.50" x2="345.60" y2="638.50" stroke="#000" stroke-width="1.2" />
<text x="339.30" y="642.35" font-size="8.2" text-anchor="end" fill="#383838" stroke="#383838" stroke-width="0.08">25</text>
<line x1="342.60" y1="653.40" x2="345.60" y2="653.40" stroke="#000" stroke-width="1.2" />
<text x="339.30" y="657.25" font-size="8.2" text-anchor="end" fill="#383838" stroke="#383838" stroke-width="0.08">0</text>
<line x1="344.00" y1="645.95" x2="345.60" y2="645.95" stroke="#000" stroke-width="1" />
<line x1="344.00" y1="631.05" x2="345.60" y2="631.05" stroke="#000" stroke-width="1" />
<line x1="344.00" y1="616.15" x2="345.60" y2="616.15" stroke="#000" stroke-width="1" />
<line x1="344.00" y1="601.25" x2="345.60" y2="601.25" stroke="#000" stroke-width="1" />
<line x1="344.00" y1="586.35" x2="345.60" y2="586.35" stroke="#000" stroke-width="1" />
<line x1="344.00" y1="571.45" x2="345.60" y2="571.45" stroke="#000" stroke-width="1" />
<line x1="344.00" y1="556.55" x2="345.60" y2="556.55" stroke="#000" stroke-width="1" />
<line x1="344.00" y1="541.65" x2="345.60" y2="541.65" stroke="#000" stroke-width="1" />
<rect x="349.90" y="542.30" width="8.50" height="5.80" fill="#fff" stroke="#000" stroke-width="1.2"/>
<rect x="349.90" y="552.60" width="8.50" height="5.80" fill="#67a840" stroke="#000" stroke-width="1.2"/>
<text x="362" y="548.3" font-size="8" fill="#231f20" textLength="117" lengthAdjust="spacingAndGlyphs">GFP<tspan font-size="5.5" dy="-3">neg</tspan><tspan dy="3"> (competitor + 2°recipient)</tspan></text>
<text x="362" y="558.3" font-size="8" fill="#231f20" textLength="53.7" lengthAdjust="spacingAndGlyphs">GFP<tspan font-size="5.5" dy="-3">+</tspan><tspan dy="3"> (1°donor)</tspan></text>
<rect x="349.50" y="594.30" width="14.10" height="59.00" fill="#fff" stroke="#000" stroke-width="1.2"/>
<rect x="349.50" y="639.60" width="14.10" height="13.70" fill="#67a840" stroke="#000" stroke-width="1.2"/>
<line x1="356.55" y1="594.30" x2="356.55" y2="576.50" stroke="#000" stroke-width="1.2" />
<line x1="353.15" y1="576.50" x2="359.95" y2="576.50" stroke="#000" stroke-width="1.4" />
<line x1="356.55" y1="639.60" x2="356.55" y2="621.20" stroke="#000" stroke-width="1.2" />
<line x1="353.35" y1="621.20" x2="359.75" y2="621.20" stroke="#000" stroke-width="1.4" />
<rect x="369.60" y="594.30" width="13.70" height="59.00" fill="#fff" stroke="#000" stroke-width="1.2"/>
<line x1="373.25" y1="593.70" x2="379.65" y2="593.70" stroke="#000" stroke-width="1.6" />
<line x1="372.95" y1="651.70" x2="379.95" y2="651.70" stroke="#000" stroke-width="1.5" />
<line x1="355.60" y1="573.50" x2="372.30" y2="573.50" stroke="#000" stroke-width="1.4" />
<circle cx="362.50" cy="570.30" r="0.8" fill="#b5a080"/>
<circle cx="365.90" cy="570.30" r="0.8" fill="#b5a080"/>
<line x1="356.55" y1="653.30" x2="356.55" y2="656.30" stroke="#000" stroke-width="1.2" />
<line x1="376.45" y1="653.30" x2="376.45" y2="656.30" stroke="#000" stroke-width="1.2" />
<text x="356.55" y="667.00" font-size="8.2" text-anchor="middle" stroke="#231f20" stroke-width="0.2">Cont</text>
<text x="376.45" y="667.00" font-size="8.2" text-anchor="middle" stroke="#231f20" stroke-width="0.2">DT</text>
<text x="376.45" y="677.30" font-size="8.2" text-anchor="middle" stroke="#231f20" stroke-width="0.2">DTR</text>
<rect x="410.40" y="592.30" width="14.00" height="61.00" fill="#fff" stroke="#000" stroke-width="1.2"/>
<rect x="410.40" y="642.00" width="14.00" height="11.30" fill="#67a840" stroke="#000" stroke-width="1.2"/>
<line x1="417.40" y1="592.30" x2="417.40" y2="576.70" stroke="#000" stroke-width="1.2" />
<line x1="414.00" y1="576.70" x2="420.80" y2="576.70" stroke="#000" stroke-width="1.4" />
<line x1="417.40" y1="642.00" x2="417.40" y2="624.60" stroke="#000" stroke-width="1.2" />
<line x1="414.20" y1="624.60" x2="420.60" y2="624.60" stroke="#000" stroke-width="1.4" />
<rect x="430.60" y="594.20" width="13.40" height="59.10" fill="#fff" stroke="#000" stroke-width="1.2"/>
<line x1="434.10" y1="593.60" x2="440.50" y2="593.60" stroke="#000" stroke-width="1.6" />
<line x1="433.80" y1="651.70" x2="440.80" y2="651.70" stroke="#000" stroke-width="1.5" />
<line x1="418.00" y1="572.60" x2="434.60" y2="572.60" stroke="#000" stroke-width="1.4" />
<circle cx="426.30" cy="569.40" r="0.8" fill="#b5a080"/>
<line x1="417.40" y1="653.30" x2="417.40" y2="656.30" stroke="#000" stroke-width="1.2" />
<line x1="437.30" y1="653.30" x2="437.30" y2="656.30" stroke="#000" stroke-width="1.2" />
<text x="417.40" y="667.00" font-size="8.2" text-anchor="middle" stroke="#231f20" stroke-width="0.2">Cont</text>
<text x="437.30" y="667.00" font-size="8.2" text-anchor="middle" stroke="#231f20" stroke-width="0.2">DT</text>
<text x="437.30" y="677.30" font-size="8.2" text-anchor="middle" stroke="#231f20" stroke-width="0.2">DTR</text>
<rect x="472.20" y="595.00" width="13.40" height="58.30" fill="#fff" stroke="#000" stroke-width="1.2"/>
<rect x="472.20" y="644.30" width="13.40" height="9.00" fill="#67a840" stroke="#000" stroke-width="1.2"/>
<line x1="478.90" y1="595.00" x2="478.90" y2="578.00" stroke="#000" stroke-width="1.2" />
<line x1="475.50" y1="578.00" x2="482.30" y2="578.00" stroke="#000" stroke-width="1.4" />
<line x1="478.90" y1="644.30" x2="478.90" y2="626.80" stroke="#000" stroke-width="1.2" />
<line x1="475.70" y1="626.80" x2="482.10" y2="626.80" stroke="#000" stroke-width="1.4" />
<rect x="492.00" y="594.20" width="13.50" height="59.10" fill="#fff" stroke="#000" stroke-width="1.2"/>
<line x1="495.55" y1="593.60" x2="501.95" y2="593.60" stroke="#000" stroke-width="1.6" />
<line x1="495.25" y1="651.70" x2="502.25" y2="651.70" stroke="#000" stroke-width="1.5" />
<line x1="478.50" y1="573.00" x2="494.60" y2="573.00" stroke="#000" stroke-width="1.4" />
<circle cx="486.50" cy="569.80" r="0.8" fill="#b5a080"/>
<line x1="478.90" y1="653.30" x2="478.90" y2="656.30" stroke="#000" stroke-width="1.2" />
<line x1="498.75" y1="653.30" x2="498.75" y2="656.30" stroke="#000" stroke-width="1.2" />
<text x="478.90" y="667.00" font-size="8.2" text-anchor="middle" stroke="#231f20" stroke-width="0.2">Cont</text>
<text x="498.75" y="667.00" font-size="8.2" text-anchor="middle" stroke="#231f20" stroke-width="0.2">DT</text>
<text x="498.75" y="677.30" font-size="8.2" text-anchor="middle" stroke="#231f20" stroke-width="0.2">DTR</text>
<line x1="397.50" y1="653.30" x2="397.50" y2="656.30" stroke="#000" stroke-width="1.2" />
<line x1="458.00" y1="653.30" x2="458.00" y2="656.30" stroke="#000" stroke-width="1.2" />
<text x="368.00" y="687.00" font-size="8.2" text-anchor="middle" stroke="#231f20" stroke-width="0.2">8wk</text>
<line x1="351.00" y1="684.30" x2="357.00" y2="684.30" stroke="#000" stroke-width="1.3" />
<line x1="379.00" y1="684.30" x2="385.00" y2="684.30" stroke="#000" stroke-width="1.3" />
<text x="429.55" y="687.00" font-size="8.2" text-anchor="middle" stroke="#231f20" stroke-width="0.2">12wk</text>
<line x1="407.70" y1="684.30" x2="413.70" y2="684.30" stroke="#000" stroke-width="1.3" />
<line x1="445.40" y1="684.30" x2="451.40" y2="684.30" stroke="#000" stroke-width="1.3" />
<text x="492.80" y="687.00" font-size="8.2" text-anchor="middle" stroke="#231f20" stroke-width="0.2">16wk</text>
<line x1="472.90" y1="684.30" x2="478.90" y2="684.30" stroke="#000" stroke-width="1.3" />
<line x1="506.70" y1="684.30" x2="512.70" y2="684.30" stroke="#000" stroke-width="1.3" />
<text x="339.40" y="699.50" font-size="8" text-anchor="middle" stroke="#231f20" stroke-width="0.2">n =</text>
<text x="356.60" y="699.50" font-size="8.2" text-anchor="middle" stroke="#231f20" stroke-width="0.2">25</text>
<text x="376.50" y="699.50" font-size="8.2" text-anchor="middle" stroke="#231f20" stroke-width="0.2">11</text>
<text x="417.40" y="699.50" font-size="8.2" text-anchor="middle" stroke="#231f20" stroke-width="0.2">25</text>
<text x="437.30" y="699.50" font-size="8.2" text-anchor="middle" stroke="#231f20" stroke-width="0.2">10</text>
<text x="478.90" y="699.50" font-size="8.2" text-anchor="middle" stroke="#231f20" stroke-width="0.2">25</text>
<text x="498.70" y="699.50" font-size="8.2" text-anchor="middle" stroke="#231f20" stroke-width="0.2">11</text>
<text x="7.30" y="17.60" font-size="13.5" font-weight="bold" fill="#000">A</text>
<text x="89.05" y="17.94" font-size="8.3" text-anchor="middle" fill="#262626" textLength="69.30" lengthAdjust="spacingAndGlyphs" stroke="#262626" stroke-width="0.2">Irradiated (11.5Gy)</text>
<text x="89.35" y="27.34" font-size="8.3" text-anchor="middle" fill="#262626" textLength="64.70" lengthAdjust="spacingAndGlyphs" stroke="#262626" stroke-width="0.2">Lethal dose (split)</text>
<path d="M66.4,33.6 L76.9,36.3 L79.4,43.9 L78.2,43.7 L81.8,50.9 L80.7,50.8 L83.2,57 L86.3,63.8 L81.2,57.6 L74.6,49.8 L75.7,49.2 L70.4,42.5 L71.6,41.9 Z" fill="#f2cf2e" stroke="#111" stroke-width="1.15" stroke-linejoin="miter"/>
<path d="M64.9,69.9 C68.5,68.8 70.5,65.5 75,64.2 C79.5,62.9 84,63 87.2,67.4" fill="none" stroke="#111" stroke-width="1.1"/>
<line x1="85.00" y1="88.98" x2="78.00" y2="87.26" stroke="#8a8a8a" stroke-width="0.7"/>
<line x1="85.00" y1="89.98" x2="77.50" y2="90.89" stroke="#8a8a8a" stroke-width="0.7"/>
<line x1="84.70" y1="90.89" x2="79.00" y2="93.92" stroke="#8a8a8a" stroke-width="0.7"/>
<line x1="90.00" y1="88.98" x2="97.00" y2="87.26" stroke="#8a8a8a" stroke-width="0.7"/>
<line x1="90.00" y1="89.98" x2="97.50" y2="90.89" stroke="#8a8a8a" stroke-width="0.7"/>
<line x1="90.30" y1="90.89" x2="96.00" y2="93.92" stroke="#8a8a8a" stroke-width="0.7"/>
<path d="M87.50,67.50 C93.50,67.50 98.00,71.53 99.10,76.57 C99.90,80.61 98.50,83.13 96.50,85.14 C94.00,87.67 91.00,91.70 87.50,91.90 C84.00,91.70 81.00,87.67 78.50,85.14 C76.50,83.13 75.10,80.61 75.90,76.57 C77.00,71.53 81.50,67.50 87.50,67.50 Z" fill="#0a0a0a" stroke="#000" stroke-width="0.9"/>
<path d="M75.90,79.80 Q80.50,76.37 85.10,79.80 Q83.30,84.24 79.50,83.83 Q76.10,83.03 75.90,79.80 Z" fill="#efdcb0"/>
<path d="M75.50,79.90 Q80.50,75.77 85.30,79.90" fill="none" stroke="#8c8c8c" stroke-width="0.9"/>
<path d="M99.10,79.80 Q94.50,76.37 89.90,79.80 Q91.70,84.24 95.50,83.83 Q98.90,83.03 99.10,79.80 Z" fill="#efdcb0"/>
<path d="M99.50,79.90 Q94.50,75.77 89.70,79.90" fill="none" stroke="#8c8c8c" stroke-width="0.9"/>
<circle cx="84.30" cy="86.66" r="1.25" fill="#c8c8c8"/>
<circle cx="90.70" cy="86.66" r="1.25" fill="#c8c8c8"/>
<ellipse cx="87.50" cy="90.29" rx="1.20" ry="0.91" fill="#e6cf9a"/>
<text x="87.60" y="103.04" font-size="8.3" text-anchor="middle" fill="#262626" textLength="47.40" lengthAdjust="spacingAndGlyphs" stroke="#262626" stroke-width="0.2">C169-DTR or</text>
<text x="88.00" y="113.04" font-size="8.3" text-anchor="middle" fill="#262626" textLength="28.60" lengthAdjust="spacingAndGlyphs" stroke="#262626" stroke-width="0.2">C57Bl/6</text>
<text x="88.75" y="123.54" font-size="8.3" text-anchor="middle" fill="#262626" textLength="53.10" lengthAdjust="spacingAndGlyphs" stroke="#262626" stroke-width="0.2">(GFPneg cells)</text>
<text x="88.90" y="133.84" font-size="8.3" text-anchor="middle" font-weight="bold" fill="#111" textLength="45.80" lengthAdjust="spacingAndGlyphs">1° Recipient</text>
<line x1="129.20" y1="45.30" x2="285.00" y2="45.30" stroke="#34446f" stroke-width="1.3" />
<line x1="129.20" y1="36.30" x2="129.20" y2="54.20" stroke="#34446f" stroke-width="1.3" />
<line x1="167.30" y1="36.30" x2="167.30" y2="54.20" stroke="#34446f" stroke-width="1.3" />
<line x1="205.90" y1="36.30" x2="205.90" y2="54.20" stroke="#34446f" stroke-width="1.3" />
<line x1="245.50" y1="36.30" x2="245.50" y2="54.20" stroke="#34446f" stroke-width="1.3" />
<line x1="284.90" y1="36.30" x2="284.90" y2="54.20" stroke="#34446f" stroke-width="1.3" />
<text x="167.30" y="33.20" font-size="9" text-anchor="middle" font-weight="bold" fill="#111">D0</text>
<text x="205.90" y="33.20" font-size="9" text-anchor="middle" font-weight="bold" fill="#111">3wk</text>
<text x="245.50" y="33.20" font-size="9" text-anchor="middle" font-weight="bold" fill="#111">4wk</text>
<text x="284.90" y="33.20" font-size="9" text-anchor="middle" font-weight="bold" fill="#111">5wk</text>
<text x="128.80" y="65.60" font-size="8.4" text-anchor="middle" font-weight="bold" fill="#111" textLength="37.70" lengthAdjust="spacingAndGlyphs">Day (D) -1</text>
<line x1="167.80" y1="62.40" x2="167.80" y2="75.00" stroke="#4d2f80" stroke-width="1.8" />
<path d="M167.80,57.40 L171.00,64.80 L167.80,63.50 L164.60,64.80 Z" fill="#4d2f80"/>
<line x1="206.10" y1="62.40" x2="206.10" y2="75.00" stroke="#9b1639" stroke-width="1.8" />
<path d="M206.10,57.40 L209.30,64.80 L206.10,63.50 L202.90,64.80 Z" fill="#9b1639"/>
<line x1="222.50" y1="62.40" x2="222.50" y2="75.00" stroke="#9b1639" stroke-width="1.8" />
<path d="M222.50,57.40 L225.70,64.80 L222.50,63.50 L219.30,64.80 Z" fill="#9b1639"/>
<line x1="239.30" y1="62.40" x2="239.30" y2="75.00" stroke="#9b1639" stroke-width="1.8" />
<path d="M239.30,57.40 L242.50,64.80 L239.30,63.50 L236.10,64.80 Z" fill="#9b1639"/>
<line x1="257.00" y1="62.40" x2="257.00" y2="75.00" stroke="#9b1639" stroke-width="1.8" />
<path d="M257.00,57.40 L260.20,64.80 L257.00,63.50 L253.80,64.80 Z" fill="#9b1639"/>
<text x="233.30" y="85.04" font-size="8.6" text-anchor="middle" fill="#262626" textLength="43.80" lengthAdjust="spacingAndGlyphs" stroke="#262626" stroke-width="0.2">Saline or DT</text>
<text x="233.50" y="94.64" font-size="8.6" text-anchor="middle" fill="#262626" textLength="35.20" lengthAdjust="spacingAndGlyphs" stroke="#262626" stroke-width="0.2">(10μg/kg)</text>
<line x1="284.90" y1="62.00" x2="284.90" y2="114.40" stroke="#9b1639" stroke-width="1.4" />
<line x1="284.90" y1="88.60" x2="299.00" y2="88.60" stroke="#9b1639" stroke-width="1.8" />
<path d="M304.00,88.60 L296.60,85.40 L297.90,88.60 L296.60,91.80 Z" fill="#9b1639"/>
<line x1="284.90" y1="113.70" x2="299.00" y2="113.70" stroke="#9b1639" stroke-width="1.8" />
<path d="M304.00,113.70 L296.60,110.50 L297.90,113.70 L296.60,116.90 Z" fill="#9b1639"/>
<path d="M148.9,84.5 C152,84 155,81.5 158,80.2 C161,78.9 166,78.4 171.2,82.4" fill="none" stroke="#111" stroke-width="1.5"/>
<line x1="168.88" y1="103.70" x2="161.82" y2="102.00" stroke="#8a8a8a" stroke-width="0.7"/>
<line x1="168.88" y1="104.70" x2="161.32" y2="105.60" stroke="#8a8a8a" stroke-width="0.7"/>
<line x1="168.58" y1="105.60" x2="162.83" y2="108.60" stroke="#8a8a8a" stroke-width="0.7"/>
<line x1="173.92" y1="103.70" x2="180.98" y2="102.00" stroke="#8a8a8a" stroke-width="0.7"/>
<line x1="173.92" y1="104.70" x2="181.48" y2="105.60" stroke="#8a8a8a" stroke-width="0.7"/>
<line x1="174.22" y1="105.60" x2="179.97" y2="108.60" stroke="#8a8a8a" stroke-width="0.7"/>
<path d="M171.40,82.40 C177.45,82.40 181.99,86.40 183.10,91.40 C183.90,95.40 182.49,97.90 180.47,99.90 C177.95,102.40 174.93,106.40 171.40,106.60 C167.87,106.40 164.85,102.40 162.33,99.90 C160.31,97.90 158.90,95.40 159.70,91.40 C160.81,86.40 165.35,82.40 171.40,82.40 Z" fill="#56913a" stroke="#1f3814" stroke-width="0.9"/>
<path d="M159.70,94.40 Q163.84,90.70 167.97,93.80" fill="none" stroke="#0b1a08" stroke-width="2.2"/>
<path d="M183.10,94.40 Q178.96,90.70 174.83,93.80" fill="none" stroke="#0b1a08" stroke-width="2.2"/>
<path d="M162.83,100.00 C165.35,103.40 168.38,106.00 171.40,106.00 C174.43,106.00 177.45,103.40 179.97,100.00" fill="none" stroke="#0b1a08" stroke-width="2.1"/>
<ellipse cx="168.58" cy="101.20" rx="1.61" ry="1.20" fill="#1d3311"/>
<ellipse cx="174.22" cy="101.20" rx="1.61" ry="1.20" fill="#1d3311"/>
<text x="168.90" y="119.14" font-size="8.3" text-anchor="middle" fill="#262626" textLength="62.20" lengthAdjust="spacingAndGlyphs" stroke="#262626" stroke-width="0.2">UBC-GFP LSK Tx</text>
<text x="168.85" y="129" font-size="8.3" text-anchor="middle" fill="#262626" textLength="41.7" lengthAdjust="spacingAndGlyphs">(GFP<tspan font-size="5.5" dy="-3">+</tspan><tspan dy="3"> cells)</tspan></text>
<text x="168.90" y="139.04" font-size="8.3" text-anchor="middle" font-weight="bold" fill="#111" textLength="34.60" lengthAdjust="spacingAndGlyphs">1° Donor</text>
<text x="326.35" y="13.34" font-size="8.3" text-anchor="middle" fill="#262626" textLength="80.70" lengthAdjust="spacingAndGlyphs" stroke="#262626" stroke-width="0.2">C57Bl/6-2° Recipients</text>
<text x="325.85" y="23.04" font-size="8.3" text-anchor="middle" fill="#262626" textLength="33.70" lengthAdjust="spacingAndGlyphs" stroke="#262626" stroke-width="0.2">(11.5 Gy)</text>
<path d="M298.7,36.6 C302.5,36.5 306,32 311.5,31.2 C316,30.6 319.5,32 321.4,35.2" fill="none" stroke="#111" stroke-width="1.1"/>
<line x1="318.90" y1="56.10" x2="311.90" y2="54.40" stroke="#8a8a8a" stroke-width="0.7"/>
<line x1="318.90" y1="57.10" x2="311.40" y2="58.00" stroke="#8a8a8a" stroke-width="0.7"/>
<line x1="318.60" y1="58.00" x2="312.90" y2="61.00" stroke="#8a8a8a" stroke-width="0.7"/>
<line x1="323.90" y1="56.10" x2="330.90" y2="54.40" stroke="#8a8a8a" stroke-width="0.7"/>
<line x1="323.90" y1="57.10" x2="331.40" y2="58.00" stroke="#8a8a8a" stroke-width="0.7"/>
<line x1="324.20" y1="58.00" x2="329.90" y2="61.00" stroke="#8a8a8a" stroke-width="0.7"/>
<path d="M321.40,34.80 C327.40,34.80 331.90,38.80 333.00,43.80 C333.80,47.80 332.40,50.30 330.40,52.30 C327.90,54.80 324.90,58.80 321.40,59.00 C317.90,58.80 314.90,54.80 312.40,52.30 C310.40,50.30 309.00,47.80 309.80,43.80 C310.90,38.80 315.40,34.80 321.40,34.80 Z" fill="#0a0a0a" stroke="#000" stroke-width="0.9"/>
<path d="M309.80,47.00 Q314.40,43.60 319.00,47.00 Q317.20,51.40 313.40,51.00 Q310.00,50.20 309.80,47.00 Z" fill="#efdcb0"/>
<path d="M309.40,47.10 Q314.40,43.00 319.20,47.10" fill="none" stroke="#8c8c8c" stroke-width="0.9"/>
<path d="M333.00,47.00 Q328.40,43.60 323.80,47.00 Q325.60,51.40 329.40,51.00 Q332.80,50.20 333.00,47.00 Z" fill="#efdcb0"/>
<path d="M333.40,47.10 Q328.40,43.00 323.60,47.10" fill="none" stroke="#8c8c8c" stroke-width="0.9"/>
<circle cx="318.20" cy="53.80" r="1.25" fill="#c8c8c8"/>
<circle cx="324.60" cy="53.80" r="1.25" fill="#c8c8c8"/>
<ellipse cx="321.40" cy="57.40" rx="1.20" ry="0.90" fill="#e6cf9a"/>
<line x1="341.70" y1="45.60" x2="369.60" y2="45.60" stroke="#34446f" stroke-width="1.8" />
<path d="M374.60,45.60 L367.20,42.40 L368.50,45.60 L367.20,48.80 Z" fill="#34446f"/>
<text x="358.30" y="58.54" font-size="8.3" text-anchor="middle" fill="#262626" textLength="34.20" lengthAdjust="spacingAndGlyphs" stroke="#262626" stroke-width="0.2">4 months</text>
<line x1="321.30" y1="69.40" x2="321.30" y2="81.30" stroke="#4d2f80" stroke-width="1.8" />
<path d="M321.30,64.40 L324.50,71.80 L321.30,70.50 L318.10,71.80 Z" fill="#4d2f80"/>
<text x="361.85" y="91.54" font-size="8.3" text-anchor="middle" fill="#262626" textLength="91.30" lengthAdjust="spacingAndGlyphs" stroke="#262626" stroke-width="0.2">Harvest BM +competitor</text>
<text x="363.10" y="101.54" font-size="8.3" text-anchor="middle" fill="#262626" textLength="46.20" lengthAdjust="spacingAndGlyphs" stroke="#262626" stroke-width="0.2">C57Bl/6 BM</text>
<text x="361.00" y="111.54" font-size="8.3" text-anchor="middle" fill="#262626" textLength="68.00" lengthAdjust="spacingAndGlyphs" stroke="#262626" stroke-width="0.2">Ex vivo analysis on</text>
<text x="362.00" y="121.54" font-size="8.3" text-anchor="middle" fill="#262626" textLength="65.00" lengthAdjust="spacingAndGlyphs" stroke="#262626" stroke-width="0.2">1° BM and spleen</text>
<text x="417.85" y="30.74" font-size="8.3" text-anchor="middle" fill="#262626" textLength="61.90" lengthAdjust="spacingAndGlyphs" stroke="#262626" stroke-width="0.2">Quantification of</text>
<text x="390.4" y="40.9" font-size="8.3" fill="#262626" textLength="56.6" lengthAdjust="spacingAndGlyphs"><tspan fill="#7fb45a">GFP<tspan font-size="5.5" dy="-3">+</tspan></tspan><tspan dy="3"> vs GFP</tspan><tspan font-size="5.5" dy="-3">neg</tspan></text>
<text x="417.70" y="50.74" font-size="8.3" text-anchor="middle" fill="#262626" textLength="42.20" lengthAdjust="spacingAndGlyphs" stroke="#262626" stroke-width="0.2">cells via tail</text>
<text x="418.80" y="60.54" font-size="8.3" text-anchor="middle" fill="#262626" textLength="21.60" lengthAdjust="spacingAndGlyphs" stroke="#262626" stroke-width="0.2">bleed</text>
</svg></body></html>
